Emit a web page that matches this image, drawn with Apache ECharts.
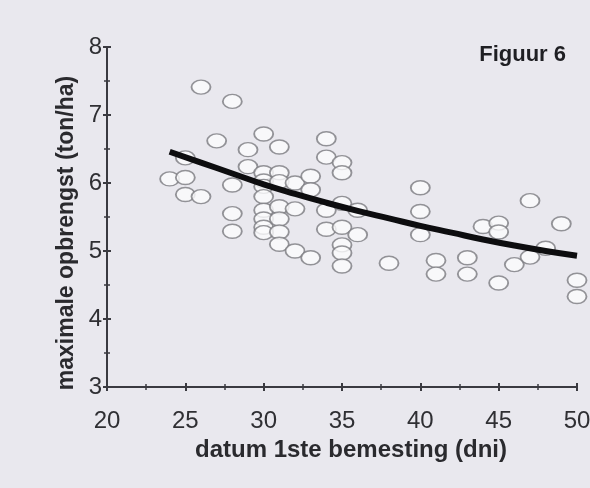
<!DOCTYPE html>
<html>
<head>
<meta charset="utf-8">
<script src="https://cdn.jsdelivr.net/npm/echarts@6/dist/echarts.min.js"></script>
<style>
  html, body { margin: 0; padding: 0; background: #e9e8ee; }
  #chart { width: 590px; height: 488px; }
</style>
</head>
<body>
<div id="chart"></div>
<script>
// meetpunten: dag van 1ste bemesting en maximale opbrengst
const scatterDays = [
  24, 25, 25, 25, 26, 26, 27, 28, 28, 28, 28, 29, 29,
  30, 30, 30, 30, 30, 30, 30, 30, 30,
  31, 31, 31, 31, 31, 31, 31,
  32, 32, 32, 33, 33, 33, 34, 34, 34, 34,
  35, 35, 35, 35, 35, 35, 35, 36, 36, 38,
  40, 40, 40, 41, 41, 43, 43, 44, 45, 45, 45, 46, 47, 47, 48, 49, 50, 50
]
const scatterYield = [
  6.06, 6.37, 6.08, 5.83, 7.41, 5.80, 6.62, 7.20, 5.97, 5.55, 5.29, 6.49, 6.24,
  6.72, 6.15, 6.03, 5.95, 5.80, 5.60, 5.47, 5.35, 5.27,
  6.53, 6.15, 6.02, 5.65, 5.47, 5.28, 5.10,
  6.00, 5.62, 5.00, 6.10, 5.90, 4.90, 6.65, 6.38, 5.60, 5.32,
  6.30, 6.15, 5.70, 5.35, 5.09, 4.97, 4.78, 5.60, 5.24, 4.82,
  5.93, 5.58, 5.24, 4.86, 4.66, 4.90, 4.66, 5.36, 5.41, 5.28, 4.53, 4.80, 5.74, 4.91, 5.04, 5.40, 4.57, 4.33
]
const curveDays = [24, 26, 28, 30, 32, 34, 36, 38, 40, 42, 44, 46, 48, 50]
const curveYield = [6.46, 6.30, 6.14, 5.98, 5.84, 5.71, 5.59, 5.48, 5.37, 5.27, 5.17, 5.08, 5.00, 4.93]

const xTicks = { min: 20, max: 50, interval: 5 }
const yTicks = { min: 3, max: 8, interval: 1 }

const chart = echarts.init(document.getElementById('chart'))
const axisColor = '#3a3a40'
const font = '"Liberation Sans", Arial, sans-serif'

// two copies of each axis so the ticks cross the axis line
function axisPair(base, isX) {
  const common = {
    type: 'value',
    position: isX ? 'bottom' : 'left',
    min: base.min, max: base.max, interval: base.interval,
    splitLine: { show: false },
    axisLine: { show: true, lineStyle: { color: axisColor, width: 2 } }
  }
  return [
    Object.assign({}, common, {
      name: isX ? 'datum 1ste bemesting (dni)' : 'maximale opbrengst (ton/ha)',
      nameLocation: 'middle',
      nameGap: isX ? 48 : 29,
      nameTextStyle: {
        color: '#2a2a2e', fontSize: isX ? 24 : 23, fontWeight: 'bold', fontFamily: font,
        padding: isX ? [0, 0, 0, 18] : [0, 32, 0, 0]
      },
      axisTick: { show: true, inside: false, length: 4, lineStyle: { color: axisColor, width: 2 } },
      minorTick: { show: true, splitNumber: 2, length: 3, lineStyle: { color: axisColor, width: 1.5 } },
      axisLabel: { color: '#2f2f33', fontSize: 24, fontFamily: font, margin: isX ? 22 : 5 }
    }),
    Object.assign({}, common, {
      axisTick: { show: true, inside: true, length: 4, lineStyle: { color: axisColor, width: 2 } },
      minorTick: { show: true, splitNumber: 2, length: 3, lineStyle: { color: axisColor, width: 1.5 } },
      axisLabel: { show: false }
    })
  ]
}

chart.setOption({
  backgroundColor: '#e9e8ee',
  animation: false,
  title: {
    text: 'Figuur 6',
    right: 19, top: 39,
    textStyle: { color: '#1f1f23', fontSize: 22, fontWeight: 'bold', fontFamily: font }
  },
  grid: { left: 107, right: 13, top: 47, bottom: 101, outerBoundsMode: 'none' },
  xAxis: axisPair(xTicks, true),
  yAxis: axisPair(yTicks, false),
  series: [
    {
      type: 'scatter',
      data: scatterDays.map((d, i) => [d, scatterYield[i]]),
      symbol: 'circle',
      symbolSize: [19, 14],
      itemStyle: { color: '#fbfbfd', borderColor: '#7a7a80', borderWidth: 1.6 },
      z: 2
    },
    {
      type: 'line',
      data: curveDays.map((d, i) => [d, curveYield[i]]),
      smooth: true,
      showSymbol: false,
      lineStyle: { color: '#0d0d0f', width: 6 },
      z: 3
    }
  ]
})
</script>
</body>
</html>
